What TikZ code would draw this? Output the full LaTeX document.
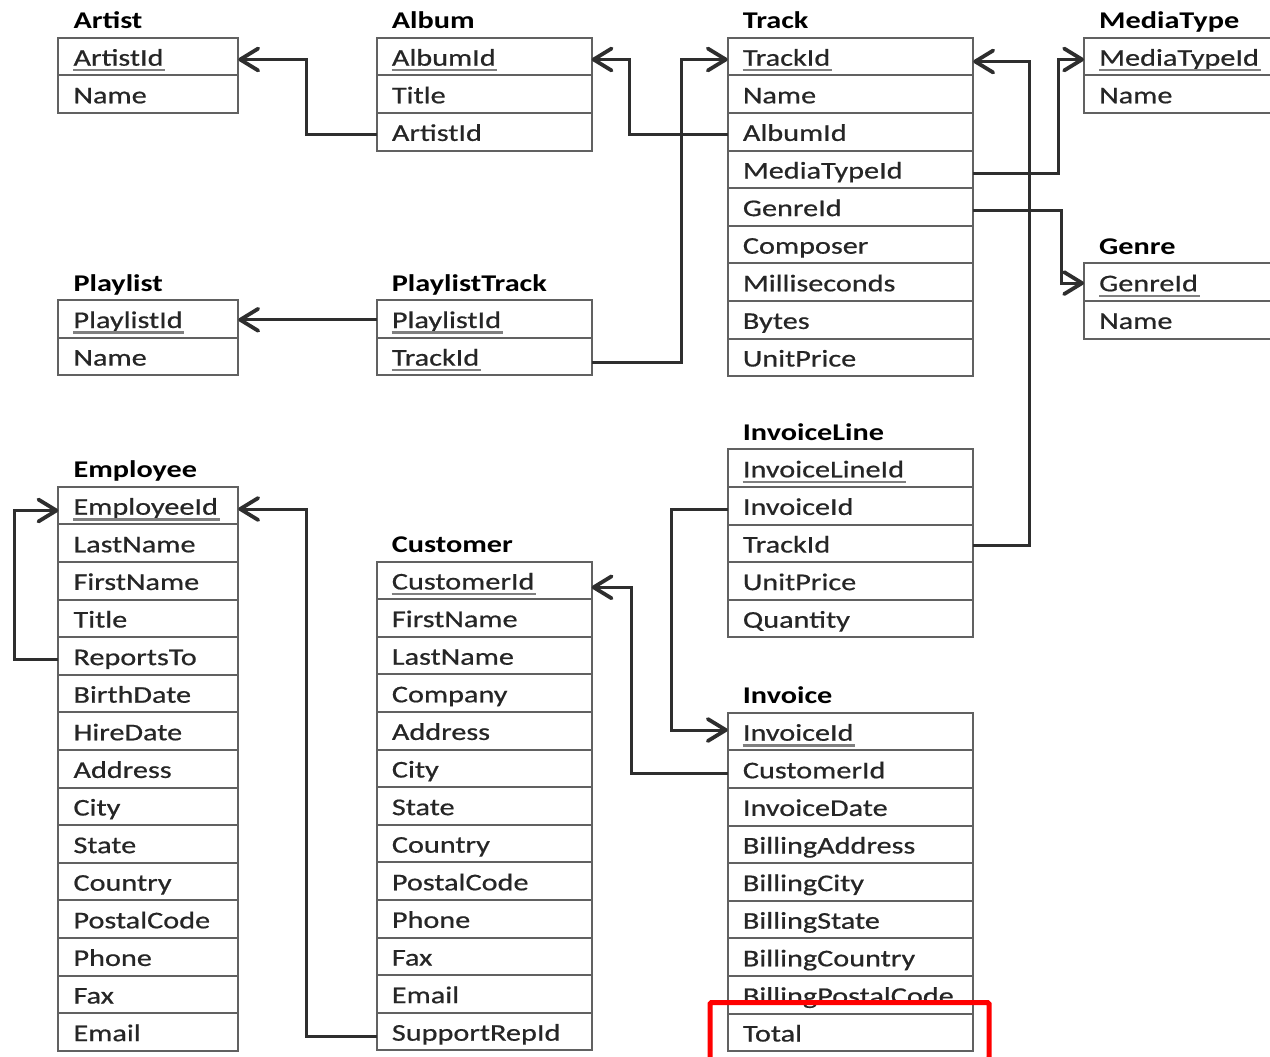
\documentclass[tikz,border=0pt]{standalone}
\usepackage{fontspec}
\setmainfont{Carlito}[FakeStretch=1.26]
\newfontfamily\cellfont{Carlito}[FakeStretch=1.26,FakeBold=0.6]
\usetikzlibrary{arrows.meta,calc}
\tikzset{
  cell/.style={draw=black!62, line width=2pt, rectangle, inner sep=0pt, outer sep=0pt, minimum height=37.6pt},
  celltext/.style={inner sep=0pt, text=black!85, font=\fontsize{24}{28}\cellfont},
  tabtitle/.style={inner sep=0pt, text=black, font=\fontsize{24}{28}\selectfont\bfseries},
  pkline/.style={draw=black!50, line width=2.6pt},
  conn/.style={draw=black!82, line width=3pt, line join=miter,
    -{Straight Barb[length=18pt,width=22pt,line width=3.8pt,round]}},
  redbox/.style={draw=red, line width=5pt, rounded corners=1.5pt}
}
\newcommand\dbtable[6]{%
  \node[tabtitle, anchor=base west] (#1-title) at ({#2+15}, {#4-9}) {#5};
  \foreach \r [count=\i] in {#6} {
    \node[cell, minimum width={#3-#2}, anchor=north west] (#1-\i) at (#2, {#4+(\i-1)*37.6}) {};
    \node[celltext, anchor=base west] (#1-\i-t) at ($(#1-\i.north west)+(15,28)$) {\r};
  }%
}
\newcommand\pkey[1]{\draw[pkline] ([yshift=-4.5pt]#1-t.base west) -- ([yshift=-4.5pt,xshift=1.5pt]#1-t.base east);}
\begin{document}
\begin{tikzpicture}[x=1pt,y=-1pt]
\path[use as bounding box, fill=white] (0,0) rectangle (1270,1057);
\clip (0,0) rectangle (1270,1057);

\dbtable{Artist}{58.3}{238.3}{37.7}{Artist}{ArtistId,Name}
\dbtable{Album}{376.7}{591.7}{37.7}{Album}{AlbumId,Title,ArtistId}
\dbtable{Track}{727.7}{973.3}{37.7}{Track}{TrackId,Name,AlbumId,MediaTypeId,GenreId,Composer,Milliseconds,Bytes,UnitPrice}
\dbtable{MediaType}{1084}{1300}{37.7}{MediaType}{MediaTypeId,Name}
\dbtable{Genre}{1084}{1300}{263.3}{Genre}{GenreId,Name}
\dbtable{Playlist}{58.3}{238.3}{300}{Playlist}{PlaylistId,Name}
\dbtable{PlaylistTrack}{376.7}{591.7}{300}{PlaylistTrack}{PlaylistId,TrackId}
\dbtable{InvoiceLine}{727.7}{973.3}{449.3}{InvoiceLine}{InvoiceLineId,InvoiceId,TrackId,UnitPrice,Quantity}
\dbtable{Employee}{58.3}{238.3}{486.7}{Employee}{EmployeeId,LastName,FirstName,Title,ReportsTo,BirthDate,HireDate,Address,City,State,Country,PostalCode,Phone,Fax,Email}
\dbtable{Customer}{376.7}{591.7}{561.5}{Customer}{CustomerId,FirstName,LastName,Company,Address,City,State,Country,PostalCode,Phone,Fax,Email,SupportRepId}
\dbtable{Invoice}{727.7}{973.3}{712.7}{Invoice}{InvoiceId,CustomerId,InvoiceDate,BillingAddress,BillingCity,BillingState,BillingCountry,BillingPostalCode,Total}

\pkey{Artist-1}
\pkey{Album-1}
\pkey{Track-1}
\pkey{MediaType-1}
\pkey{Genre-1}
\pkey{Playlist-1}
\pkey{PlaylistTrack-1}
\pkey{PlaylistTrack-2}
\pkey{InvoiceLine-1}
\pkey{Employee-1}
\pkey{Customer-1}
\pkey{Invoice-1}

% connectors
\draw[conn] ([yshift=-3pt]Album-3.west) -- ++(-70,0) |- ([yshift=-3pt]Artist-1.east);
\draw[conn] ([yshift=-3pt]Track-3.west) -- ++(-98.7,0) |- ([yshift=-3pt]Album-1.east);
\draw[conn] ([yshift=-6pt]PlaylistTrack-2.east) -- ++(90,0) |- ([yshift=-3pt]Track-1.west);
\draw[conn] ([yshift=-1pt]PlaylistTrack-1.west) -- ([yshift=-1pt]Playlist-1.east);
\draw[conn] ([yshift=-4pt]Track-4.east) -- ++(85,0) |- ([yshift=-3pt]MediaType-1.west);
\draw[conn] ([yshift=-4pt]Track-5.east) -- ++(88.4,0) |- ([yshift=-1pt]Genre-1.west);
\draw[conn] ([yshift=-2.4pt]InvoiceLine-3.east) -- ++(55.7,0) |- ([yshift=-5pt]Track-1.east);
\draw[conn] ([yshift=-3.6pt]InvoiceLine-2.west) -- ++(-56,0) |- ([yshift=1.5pt]Invoice-1.west);
\draw[conn] ([yshift=-4pt]Invoice-2.west) -- ++(-96,0) |- ([yshift=-7pt]Customer-1.east);
\draw[conn] ([yshift=-4.7pt]Customer-13.west) -- ++(-70,0) |- ([yshift=-3.5pt]Employee-1.east);
\draw[conn] ([yshift=-4pt]Employee-5.west) -- ++(-44.3,0) |- ([yshift=-5pt]Employee-1.west);

% highlight
\draw[redbox] (710,1002.5) rectangle (989,1059.5);
\end{tikzpicture}
\end{document}
